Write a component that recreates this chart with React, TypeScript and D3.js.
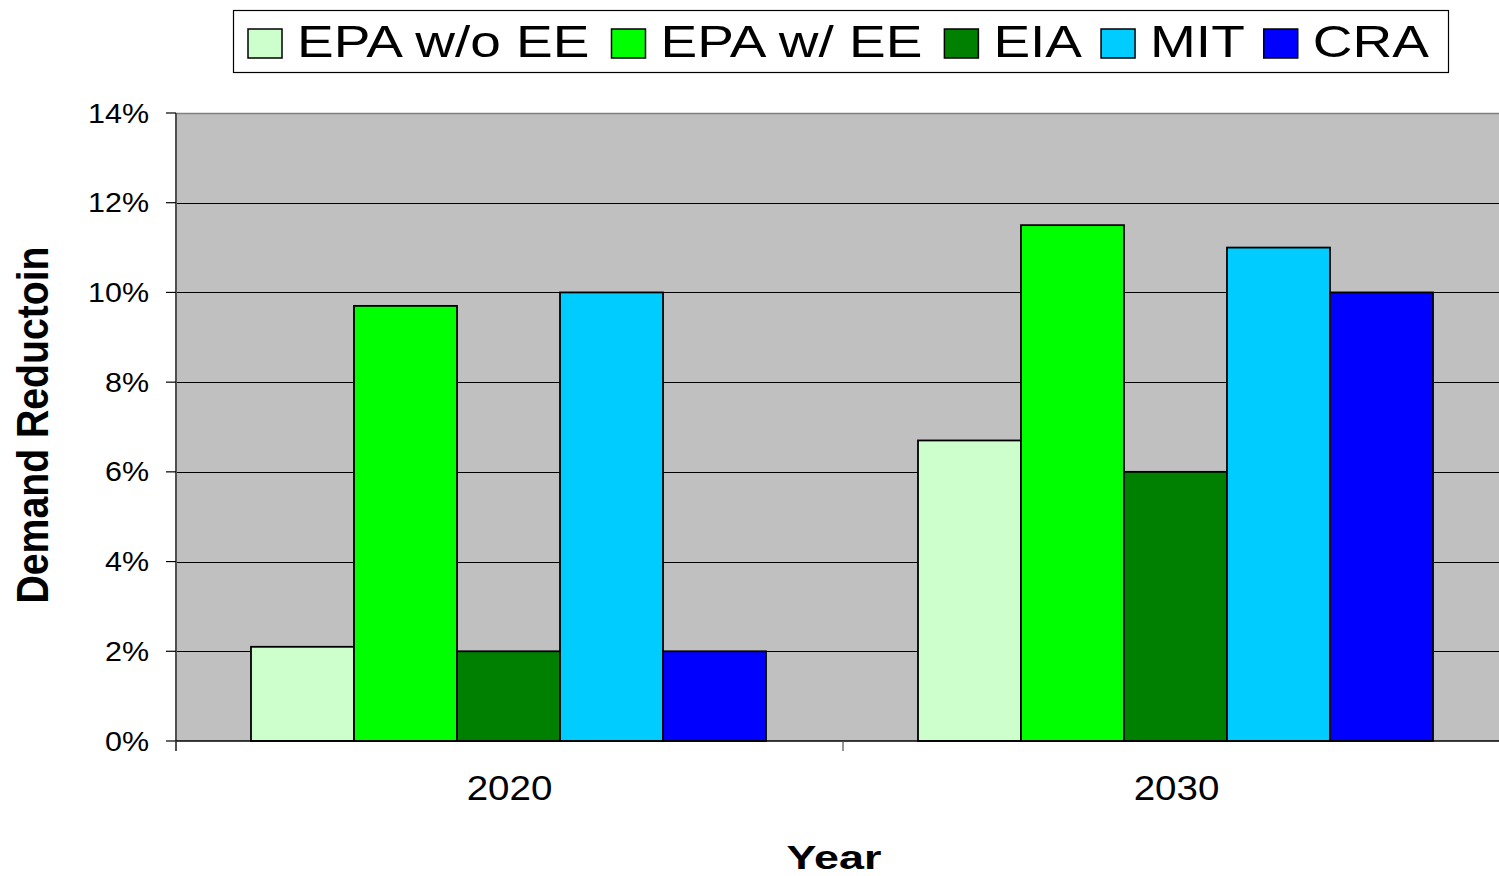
import React from "react";
import * as d3 from "d3";

// Demand reduction estimates by study, for 2020 and 2030
const years = ["2020", "2030"];
const studies = ["EPA w/o EE", "EPA w/ EE", "EIA", "MIT", "CRA"];
const studyColors = ["#CCFFCC", "#00FF00", "#008000", "#00CCFF", "#0000FF"];
const epaWithoutEE = [0.021, 0.067];
const epaWithEE = [0.097, 0.115];
const eia = [0.02, 0.06];
const mit = [0.1, 0.11];
const cra = [0.02, 0.1];
const yTicks = [0, 0.02, 0.04, 0.06, 0.08, 0.1, 0.12, 0.14];

const seriesValues = [epaWithoutEE, epaWithEE, eia, mit, cra];

const W = 1499;
const H = 876;
const FONT = "'Liberation Sans', Arial, Helvetica, sans-serif";

function measure(text: string, font: string): number {
  const c = document.createElement("canvas");
  const ctx = c.getContext("2d");
  if (!ctx) return text.length * 20;
  ctx.font = font;
  return ctx.measureText(text).width;
}

export default function App() {
  const left = 176;
  const top = 113;
  const bottom = 741;
  const bandW = 667;

  const x0 = d3
    .scaleBand<string>()
    .domain(years)
    .range([left, left + bandW * years.length])
    .paddingInner(0)
    .paddingOuter(0);
  const x1 = d3.scaleBand<string>().domain(studies).range([75, 590]).padding(0);
  const y = d3.scaleLinear().domain([0, 0.14]).range([bottom, top]);
  const fmt = d3.format(".0%");

  const plotRight = x0.range()[1];

  // legend layout from measured label widths
  const legendFontSize = 44;
  const legendSX = 1.25;
  const swatchW = 34;
  const swatchH = 29;
  let cursor = 248;
  const legendItems = studies.map((s, i) => {
    const tw = measure(s, `${legendFontSize}px ${FONT}`) * legendSX;
    const item = { name: s, color: studyColors[i], sx: cursor, tx: cursor + swatchW + 15, tw };
    cursor = item.tx + tw + 19;
    return item;
  });

  return (
    <svg
      width={W}
      height={H}
      style={{ position: "fixed", left: 0, top: 0, background: "#fff" }}
      fontFamily={FONT}
    >
      {/* plot area */}
      <rect x={left} y={top} width={plotRight - left} height={bottom - top} fill="#C0C0C0" />
      <line x1={left} x2={plotRight} y1={top + 0.5} y2={top + 0.5} stroke="#808080" strokeWidth={1.5} />

      {/* gridlines */}
      {yTicks
        .filter((t) => t > 0 && t < 0.14)
        .map((t) => (
          <line
            key={"g" + t}
            x1={left}
            x2={plotRight}
            y1={Math.round(y(t)) + 0.5}
            y2={Math.round(y(t)) + 0.5}
            stroke="#000"
            strokeWidth={1}
          />
        ))}

      {/* bars */}
      {years.map((yr, gi) => (
        <g key={yr} transform={`translate(${x0(yr)},0)`}>
          {studies.map((s, si) => {
            const v = seriesValues[si][gi];
            return (
              <rect
                key={s}
                x={x1(s)}
                y={y(v)}
                width={x1.bandwidth()}
                height={bottom - y(v)}
                fill={studyColors[si]}
                stroke="#000"
                strokeWidth={1.8}
              />
            );
          })}
        </g>
      ))}

      {/* y axis */}
      <line x1={left} x2={left} y1={top} y2={bottom + 10} stroke="#505050" strokeWidth={2} />
      {yTicks.map((t) => (
        <g key={"t" + t}>
          <line x1={left - 10} x2={left} y1={y(t)} y2={y(t)} stroke="#000" strokeWidth={1.2} />
          <text
            transform={`translate(149,${y(t) + 9.5}) scale(1.13,1)`}
            textAnchor="end"
            fontSize={27}
            fill="#000"
          >
            {fmt(t)}
          </text>
        </g>
      ))}

      {/* x axis */}
      <line x1={left} x2={plotRight} y1={bottom} y2={bottom} stroke="#000" strokeWidth={1.5} />
      {[...years.map((yr) => x0(yr) as number), plotRight].map((px, i) => (
        <line key={"xt" + i} x1={px} x2={px} y1={bottom} y2={bottom + 10} stroke="#505050" strokeWidth={1.2} />
      ))}
      {years.map((yr) => (
        <text
          key={"xl" + yr}
          transform={`translate(${(x0(yr) as number) + x0.bandwidth() / 2},800) scale(1.1,1)`}
          textAnchor="middle"
          fontSize={35}
          fill="#000"
        >
          {yr}
        </text>
      ))}

      {/* axis titles */}
      <text
        transform="translate(834,869) scale(1.32,1)"
        textAnchor="middle"
        fontSize={34}
        fontWeight="bold"
        fill="#000"
      >
        Year
      </text>
      <text
        transform="translate(48,425) rotate(-90) scale(0.98,1.1)"
        textAnchor="middle"
        fontSize={40}
        fontWeight="bold"
        fill="#000"
      >
        Demand Reductoin
      </text>

      {/* legend */}
      <rect x={233.5} y={10.5} width={1215} height={62} fill="#fff" stroke="#000" strokeWidth={1.2} />
      {legendItems.map((it) => (
        <g key={"lg" + it.name}>
          <rect x={it.sx} y={29} width={swatchW} height={swatchH} fill={it.color} stroke="#000" strokeWidth={1.5} />
          <text
            transform={`translate(${it.tx},57) scale(${legendSX},1)`}
            fontSize={legendFontSize}
            fill="#000"
          >
            {it.name}
          </text>
        </g>
      ))}
    </svg>
  );
}
